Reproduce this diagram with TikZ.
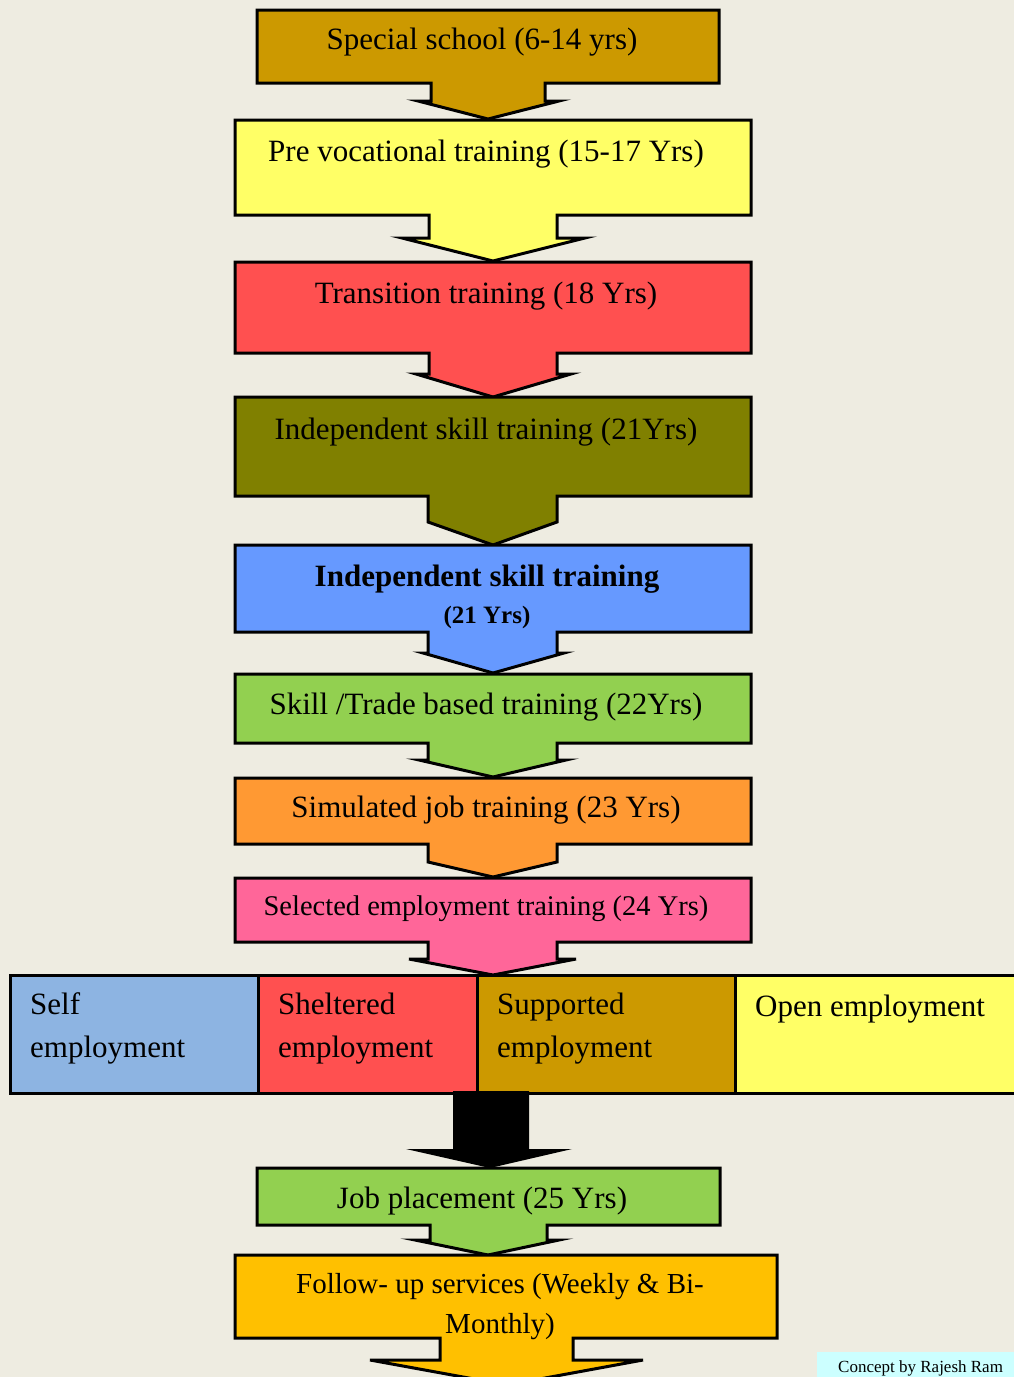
\documentclass[tikz,border=0pt]{standalone}
\usepackage{fontspec}
\setmainfont{Liberation Serif}
\definecolor{cBg}{HTML}{EEECE1}
\definecolor{cGold}{HTML}{CC9900}
\definecolor{cYellow}{HTML}{FFFF66}
\definecolor{cRed}{HTML}{FF5050}
\definecolor{cOlive}{HTML}{808000}
\definecolor{cBlue}{HTML}{6699FF}
\definecolor{cGreen}{HTML}{92D050}
\definecolor{cOrange}{HTML}{FF9933}
\definecolor{cPink}{HTML}{FF6699}
\definecolor{cSky}{HTML}{8DB4E2}
\definecolor{cAmber}{HTML}{FFC000}
\definecolor{cCyan}{HTML}{CCFFFF}
\begin{document}
\begin{tikzpicture}[x=1pt,y=-1pt,
  stage/.style={draw=black,line width=3pt,line join=miter},
  lbl/.style={font=\fontsize{31}{37}\selectfont,inner sep=0pt,anchor=base},
  rowlbl/.style={font=\fontsize{31}{43}\selectfont,inner sep=0pt,anchor=base west,align=left}]
\useasboundingbox (0,0) rectangle (1014,1377);
\clip (0,0) rectangle (1014,1377);
\fill[cBg] (0,0) rectangle (1014,1377);

% stage boxes, each with its down-pointing arrow
\draw[stage,fill=cGold] (257,10) -- (719,10) -- (719,83) -- (545,83) -- (545,101) -- (559,101)
  -- (488,119) -- (418,101) -- (431,101) -- (431,83) -- (257,83) -- cycle;
\node[lbl] (school) at (482,49) {Special school (6-14 yrs)};

\draw[stage,fill=cYellow] (235,120) -- (751,120) -- (751,215) -- (557,215) -- (557,238) -- (585,238)
  -- (493,261) -- (402,238) -- (429,238) -- (429,215) -- (235,215) -- cycle;
\node[lbl] (prevoc) at (486,161) {Pre vocational training (15-17 Yrs)};

\draw[stage,fill=cRed] (235,262) -- (751,262) -- (751,353) -- (557,353) -- (557,374) -- (571,374)
  -- (493,397) -- (416,374) -- (429,374) -- (429,353) -- (235,353) -- cycle;
\node[lbl] (transition) at (486,303) {Transition training (18 Yrs)};

\draw[stage,fill=cOlive] (235,397) -- (751,397) -- (751,496) -- (557,496) -- (557,522)
  -- (493,545) -- (428,522) -- (428,496) -- (235,496) -- cycle;
\node[lbl] (indep) at (486,439) {Independent skill training (21Yrs)};

\draw[stage,fill=cBlue] (235,545) -- (751,545) -- (751,632) -- (557,632) -- (557,653) -- (564,653)
  -- (493,673) -- (423,653) -- (428,653) -- (428,632) -- (235,632) -- cycle;
\node[lbl,font=\fontsize{31}{37}\selectfont\bfseries] (indepb) at (487,586) {Independent skill training};
\node[lbl,font=\fontsize{25}{30}\selectfont\bfseries] (indepage) at (487,623) {(21 Yrs)};

\draw[stage,fill=cGreen] (235,674) -- (751,674) -- (751,743) -- (557,743) -- (557,760) -- (566,760)
  -- (493,777) -- (419,760) -- (428,760) -- (428,743) -- (235,743) -- cycle;
\node[lbl] (trade) at (486,714) {Skill /Trade based training (22Yrs)};

\draw[stage,fill=cOrange] (235,778) -- (751,778) -- (751,844) -- (557,844) -- (557,862)
  -- (493,877) -- (428,862) -- (428,844) -- (235,844) -- cycle;
\node[lbl] (simulated) at (486,817) {Simulated job training (23 Yrs)};

\draw[stage,fill=cPink] (235,878) -- (751,878) -- (751,942) -- (557,942) -- (557,959) -- (576,959)
  -- (493,975) -- (409,959) -- (428,959) -- (428,942) -- (235,942) -- cycle;
\node[lbl,font=\fontsize{28.5}{34}\selectfont] (selected) at (486,915) {Selected employment training (24 Yrs)};

% employment options (multi-line labels are placed by their last baseline)
\draw[stage,fill=cSky] (10,975) rectangle (258,1093);
\draw[stage,fill=cRed] (258,975) rectangle (477,1093);
\draw[stage,fill=cGold] (477,975) rectangle (735,1093);
\draw[stage,fill=cYellow] (735,975) rectangle (1030,1093);
\node[rowlbl] (self) at (30,1057) {Self\\employment};
\node[rowlbl] (sheltered) at (278,1057) {Sheltered\\employment};
\node[rowlbl] (supported) at (497,1057) {Supported\\employment};
\node[rowlbl] (open) at (755,1016) {Open employment};

% black arrow into job placement
\fill[black] (453,1091) -- (529,1091) -- (529,1149) -- (572,1149) -- (490,1168)
  -- (406,1149) -- (453,1149) -- cycle;

\draw[stage,fill=cGreen] (257,1168) -- (720,1168) -- (720,1225) -- (547,1225) -- (547,1240) -- (559,1240)
  -- (488,1255) -- (415,1240) -- (430,1240) -- (430,1225) -- (257,1225) -- cycle;
\node[lbl] (job) at (482,1208) {Job placement (25 Yrs)};

\draw[stage,fill=cAmber] (235,1255) -- (777,1255) -- (777,1338) -- (573,1338) -- (573,1360) -- (643,1360)
  -- (507,1385) -- (370,1360) -- (440,1360) -- (440,1338) -- (235,1338) -- cycle;
\node[lbl,font=\fontsize{29}{40}\selectfont,align=center] (follow) at (500,1333) {Follow- up services (Weekly \& Bi-\\Monthly)};

% credit
\fill[cCyan] (817,1352) rectangle (1030,1390);
\node[inner sep=0pt,anchor=base west,font=\fontsize{17}{20}\selectfont] (credit) at (838,1372) {Concept by Rajesh Ram};
\end{tikzpicture}
\end{document}
